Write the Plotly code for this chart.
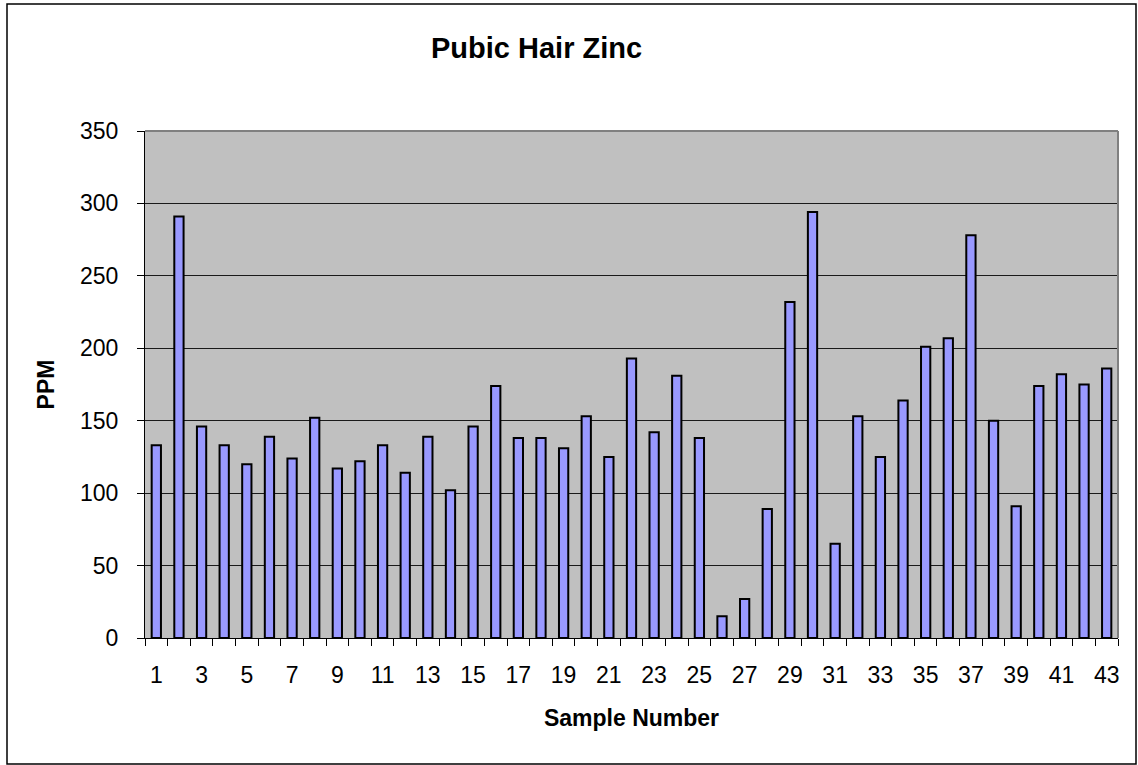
import plotly.graph_objects as go

samples = [str(i) for i in range(1, 44)]
zinc_ppm = [133, 291, 146, 133, 120, 139, 124, 152, 117, 122,
            133, 114, 139, 102, 146, 174, 138, 138, 131, 153,
            125, 193, 142, 181, 138, 15, 27, 89, 232, 294,
            65, 153, 125, 164, 201, 207, 278, 150, 91, 174,
            182, 175, 186]
y_ticks = [0, 50, 100, 150, 200, 250, 300, 350]

W, H = 1138, 765
L, R, T, B = 145, 1118, 131, 638
pw, ph = R - L, B - T

def px(x):
    return (x - L) / pw

def py(y):
    return (B - y) / ph

FONT = "Liberation Sans, Arial, sans-serif"

fig = go.Figure(go.Bar(
    x=samples, y=zinc_ppm, width=0.41,
    marker=dict(color="#9999FF", line=dict(color="black", width=2)),
))

fig.update_layout(
    width=W, height=H,
    margin=dict(l=L, r=W - R, t=T, b=H - B),
    paper_bgcolor="white", plot_bgcolor="#C0C0C0",
    font=dict(family=FONT, size=23, color="black"),
    showlegend=False,
)

fig.update_xaxes(
    type="category", tickmode="linear", tick0=0, dtick=1,
    tickson="boundaries", ticklabelstep=2, tickangle=0,
    ticks="outside", ticklen=7, tickcolor="black", tickwidth=1,
    showline=True, linecolor="black", linewidth=1,
    showgrid=False, ticklabelstandoff=16,
    title=dict(text="<b>Sample Number</b>", font=dict(size=23), standoff=23),
)
fig.update_yaxes(
    range=[0, 350], tickvals=y_ticks, ticks="outside", ticklen=7,
    tickcolor="black", tickwidth=1,
    showline=True, linecolor="black", linewidth=1,
    showgrid=True, gridcolor="#1a1a1a", gridwidth=1,
    zeroline=False, ticklabelstandoff=14,
    title=dict(text="<b>PPM</b>", font=dict(size=23), standoff=18),
)

fig.add_annotation(
    text="<b>Pubic Hair Zinc</b>", xref="paper", yref="paper",
    x=px(536), y=py(48), xanchor="center", yanchor="middle",
    showarrow=False, font=dict(size=29, family=FONT, color="black"),
)

# plot area gray border (top & right)
fig.add_shape(type="line", xref="paper", yref="paper", x0=0, x1=1, y0=1, y1=1,
              line=dict(color="#808080", width=2), layer="above")
fig.add_shape(type="line", xref="paper", yref="paper", x0=1, x1=1, y0=0, y1=1,
              line=dict(color="#808080", width=2), layer="above")
# outer chart border
fig.add_shape(type="rect", xref="paper", yref="paper",
              x0=px(7), x1=px(1136), y0=py(764), y1=py(4),
              line=dict(color="black", width=1.5), layer="above")

fig.write_html("out.html",
               config={"displayModeBar": False},
               post_script="document.body.style.margin='0';document.body.style.overflow='hidden';")
